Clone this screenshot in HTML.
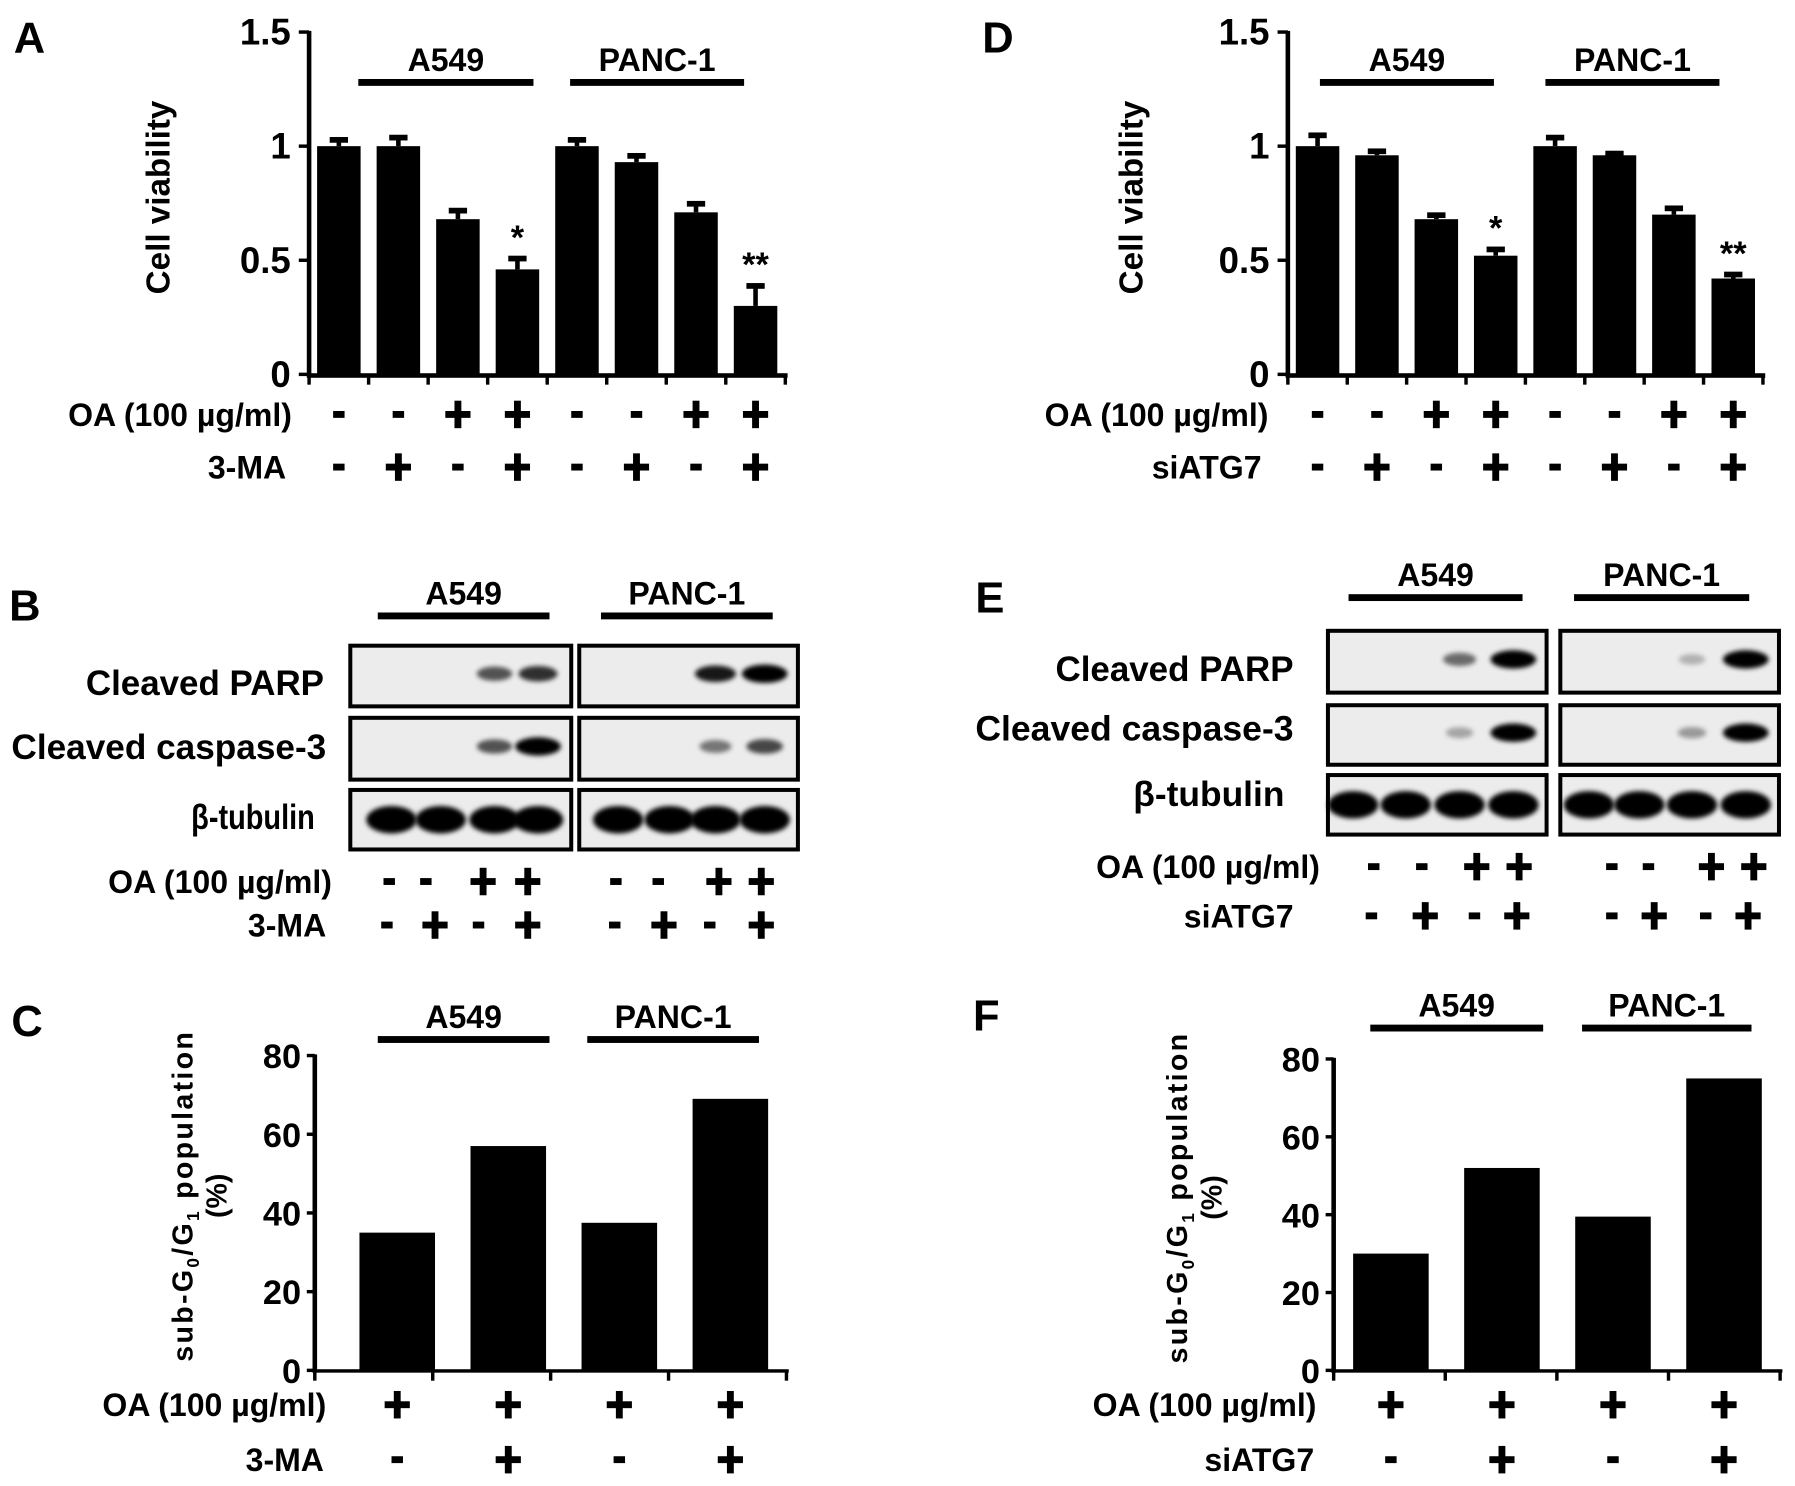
<!DOCTYPE html>
<html><head><meta charset="utf-8"><style>
html,body{margin:0;padding:0;background:#fff;}
svg{display:block;}
text{font-family:"Liberation Sans",Arial,sans-serif;font-weight:bold;fill:#000;}
</style></head><body>
<svg id="fig" width="1795" height="1486" viewBox="0 0 1568 1298" preserveAspectRatio="none" xmlns="http://www.w3.org/2000/svg">
<defs>
<filter id="blur" x="-50%" y="-100%" width="200%" height="300%"><feGaussianBlur stdDeviation="2.2"/></filter>
</defs>
<g id="root"></g>
</svg>
<script>
// ---- data ----
const vCats = ["A549-1","A549-2","A549-3","A549-4","PANC1-1","PANC1-2","PANC1-3","PANC1-4"];
const viabA = [1.0, 1.0, 0.68, 0.46, 1.0, 0.93, 0.71, 0.30];
const errA  = [0.03, 0.04, 0.04, 0.05, 0.03, 0.03, 0.04, 0.09];
const starsA = ["","","","*","","","","**"];
const viabD = [1.0, 0.96, 0.68, 0.52, 1.0, 0.96, 0.70, 0.42];
const errD  = [0.05, 0.02, 0.02, 0.03, 0.04, 0.01, 0.03, 0.02];
const starsD = ["","","","*","","","","**"];
const viabTicks = [0, 0.5, 1, 1.5];
const viabTickLabels = ["0","0.5","1","1.5"];
const oa8 = ["-","-","+","+","-","-","+","+"];
const inh8 = ["-","+","-","+","-","+","-","+"];
const subCats = ["A549 OA","A549 OA+inh","PANC1 OA","PANC1 OA+inh"];
const subC = [35, 57, 37.5, 69];
const subF = [30, 52, 39.5, 75];
const subTicks = [0,20,40,60,80];
const oa4 = ["+","+","+","+"];
const inh4 = ["-","+","-","+"];
// blot band intensities (0..1) per lane
const bParpA = [0,0,0.55,0.7], bParpP = [0,0,0.8,1.0];
const bCasA = [0,0,0.55,1.0], bCasP = [0,0,0.4,0.6];
const eParpA = [0,0,0.45,1.0], eParpP = [0,0,0.15,1.0];
const eCasA = [0,0,0.2,1.0], eCasP = [0,0,0.25,1.0];
const tub = [1,1,1,1];

const NS="http://www.w3.org/2000/svg";
const root=document.getElementById('root');
function el(tag,attrs,parent){const e=document.createElementNS(NS,tag);for(const k in attrs)e.setAttribute(k,attrs[k]);(parent||root).appendChild(e);return e;}
function txt(s,x,y,size,anchor,parent){const t=el('text',{x:x,y:y,'font-size':size,'text-anchor':anchor||'middle'},parent);t.textContent=s;return t;}
function ltxt(s,x1,x2,y,size,name){const t=el('text',{x:x1,y:y,'font-size':size,'text-anchor':'start',textLength:x2-x1,lengthAdjust:'spacingAndGlyphs'});t.textContent=s;
 
 return t;}

function panelLetter(l,x,y){const t=txt(l,x,y,38,'start');

}

function groupLine(label,x1,x2,y,name){
 const g=el('g',{});
 
 
 el('rect',{x:x1,y:y-3,width:x2-x1,height:6,fill:'#000'},g);
 txt(label,(x1+x2)/2,y-10,28,'middle',g);
}

function signRow(label,labelX,y,xs,signs,name){
 const g=el('g',{});
 
 
 txt(label,labelX,y+10,28,'end',g);
 signs.forEach((s,i)=>{
  if(s==='+'){el('rect',{x:xs[i]-11,y:y-3,width:22,height:6,fill:'#000'},g);el('rect',{x:xs[i]-3,y:y-12,width:6,height:24,fill:'#000'},g);}
  else el('rect',{x:xs[i]-5,y:y-3,width:10,height:6,fill:'#000'},g);
 });
}

function viabChart(o){
 const g=el('g',{});
 
 
 const y=v=>o.y0-(v-0)*(o.y0-o.y1)/1.5;
 const step=(o.xEnd-o.x0)/o.vals.length;
 const cx=i=>o.x0+step*(i+0.5);
 o.vals.forEach((v,i)=>{
  const b=el('rect',{x:cx(i)-19,y:y(v),width:38,height:o.y0-y(v),fill:'#000'},g);
  
  
  const et=y(v+o.errs[i]);
  el('rect',{x:cx(i)-2,y:et,width:4,height:y(v)-et,fill:'#000'},g);
  el('rect',{x:cx(i)-8,y:et-2,width:16,height:5,fill:'#000'},g);
  if(o.stars[i]) txt(o.stars[i],cx(i),et-8,30,'middle',g);
 });
 el('rect',{x:o.x0-2,y:o.y1-1,width:4,height:o.y0-o.y1+3,fill:'#000'},g);
 el('rect',{x:o.x0-2,y:o.y0-1,width:o.xEnd-o.x0+4,height:4,fill:'#000'},g);
 viabTicks.forEach((t,i)=>{el('rect',{x:o.x0-9,y:y(t)-1.5,width:9,height:3,fill:'#000'},g);
  txt(viabTickLabels[i],o.x0-16,y(t)+11,32,'end',g);});
 for(let i=0;i<=o.vals.length;i++) el('rect',{x:o.x0+step*i-1.5,y:o.y0,width:3,height:9,fill:'#000'},g);
 const yl=txt('Cell viability',0,0,29,'middle',g);
 yl.setAttribute('transform','translate('+o.ylx+','+((o.y0+o.y1)/2-5)+') rotate(-90)');
 
 
 return o.vals.map((v,i)=>cx(i));
}

function subChart(o){
 const g=el('g',{});
 
 
 const y=v=>o.y0-v*(o.y0-o.y1)/80;
 const step=(o.xEnd-o.x0)/o.vals.length;
 const cx=i=>o.x0+o.first+i*o.gap;
 o.vals.forEach((v,i)=>{
  const b=el('rect',{x:cx(i)-33,y:y(v),width:66,height:o.y0-y(v),fill:'#000'},g);
  
  
 });
 el('rect',{x:o.x0-2,y:o.y1-1,width:4,height:o.y0-o.y1+3,fill:'#000'},g);
 el('rect',{x:o.x0-2,y:o.y0-1,width:o.xEnd-o.x0+4,height:3,fill:'#000'},g);
 subTicks.forEach(t=>{el('rect',{x:o.x0-7,y:y(t)-1.5,width:7,height:3,fill:'#000'},g);
  txt(String(t),o.x0-12,y(t)+11,30,'end',g);});
 for(let i=0;i<=o.vals.length;i++) el('rect',{x:o.x0+step*i-1.5,y:o.y0,width:3,height:9,fill:'#000'},g);
 const yl=el('text',{'font-size':25,'text-anchor':'middle','letter-spacing':'2'},g);
 yl.setAttribute('transform','translate('+o.ylx+','+((o.y0+o.y1)/2-15)+') rotate(-90)');
 
 
 yl.innerHTML='sub-G<tspan font-size="15" dy="6">0</tspan><tspan dy="-6">/G</tspan><tspan font-size="15" dy="6">1</tspan><tspan dy="-6"> population</tspan>';
 const y2=txt('(%)',0,0,25,'middle',g);
 y2.setAttribute('transform','translate('+(o.ylx+30)+','+((o.y0+o.y1)/2-15)+') rotate(-90)');
 return o.vals.map((v,i)=>cx(i));
}

function blotBox(x1,x2,y1,y2,bands,lanes,name,thick){
 const g=el('g',{});
 
 
 el('rect',{x:x1,y:y1,width:x2-x1,height:y2-y1,fill:'#ececec',stroke:'#000','stroke-width':3.5},g);
 const cy=(y1+y2)/2;
 bands.forEach((b,i)=>{ if(b<=0.02) return;
  const ry=thick?12:4+4*b, rx=thick?22:10+10*b;
  el('ellipse',{cx:lanes[i],cy:cy-(thick?0:2),rx:rx,ry:ry,fill:'#000','fill-opacity':Math.min(1,0.1+b),filter:'url(#blur)'},g);
 });
}

// ---- Panel A ----
panelLetter('A',12,46);
let xsA=viabChart({name:'panel-a-viability-chart',x0:270,xEnd:686,y0:327,y1:28,vals:viabA,errs:errA,stars:starsA,ylx:148});
groupLine('A549',313,466,72,'group-a549-a');groupLine('PANC-1',498,650,72,'group-panc1-a');
signRow('OA (100 µg/ml)',255,362,xsA,oa8,'oa-row-a');
signRow('3-MA',250,408,xsA,inh8,'inhibitor-row-a');

// ---- Panel D ----
panelLetter('D',858,46);
let xsD=viabChart({name:'panel-d-viability-chart',x0:1125,xEnd:1540,y0:327,y1:28,vals:viabD,errs:errD,stars:starsD,ylx:998});
groupLine('A549',1153,1305,72,'group-a549-d');groupLine('PANC-1',1350,1502,72,'group-panc1-d');
signRow('OA (100 µg/ml)',1108,362,xsD,oa8,'oa-row-d');
signRow('siATG7',1102,408,xsD,inh8,'inhibitor-row-d');

// ---- Panel B ----
panelLetter('B',8,542);
groupLine('A549',330,480,538,'group-a549-b');groupLine('PANC-1',525,675,538,'group-panc1-b');
const lBA=[342,385,432,470], lBP=[540,585,625,668];
ltxt('Cleaved PARP',75,283,607,31,'label-cleaved-parp-b');
ltxt('Cleaved caspase-3',10,285,663,31,'label-cleaved-caspase-b');
ltxt('β-tubulin',167,275,724,31,'label-tubulin-b');
blotBox(306,499,564,617,bParpA,lBA,'blot-parp-a549');blotBox(506,697,564,617,bParpP,lBP,'blot-parp-panc1');
blotBox(306,499,627,681,bCasA,lBA,'blot-caspase-a549');blotBox(506,697,627,681,bCasP,lBP,'blot-caspase-panc1');
blotBox(306,499,690,742,tub,lBA,'blot-tubulin-a549',true);blotBox(506,697,690,742,tub,lBP,'blot-tubulin-panc1',true);
signRow('OA (100 µg/ml)',290,770,[340,372,422,461,538,575,628,665],oa8,'oa-row-b');
signRow('3-MA',285,808,[338,380,418,461,537,580,620,665],inh8,'inhibitor-row-b');

// ---- Panel E ----
panelLetter('E',852,535);
groupLine('A549',1178,1330,522,'group-a549-e');groupLine('PANC-1',1375,1528,522,'group-panc1-e');
const lEA=[1182,1228,1275,1322], lEP=[1388,1432,1478,1525];
ltxt('Cleaved PARP',922,1130,595,31,'label-cleaved-parp-e');
ltxt('Cleaved caspase-3',852,1130,647,31,'label-cleaved-caspase-e');
ltxt('β-tubulin',990,1122,704,31,'label-tubulin-e');
blotBox(1160,1351,551,605,eParpA,lEA,'blot-parp-a549-e');blotBox(1363,1554,551,605,eParpP,lEP,'blot-parp-panc1-e');
blotBox(1160,1351,616,668,eCasA,lEA,'blot-caspase-a549-e');blotBox(1363,1554,616,668,eCasP,lEP,'blot-caspase-panc1-e');
blotBox(1160,1351,677,729,tub,lEA,'blot-tubulin-a549-e',true);blotBox(1363,1554,677,729,tub,lEP,'blot-tubulin-panc1-e',true);
signRow('OA (100 µg/ml)',1153,757,[1200,1242,1290,1327,1408,1440,1495,1532],oa8,'oa-row-e');
signRow('siATG7',1130,800,[1198,1245,1288,1325,1408,1445,1490,1527],inh8,'inhibitor-row-e');

// ---- Panel C ----
panelLetter('C',10,905);
let xsC=subChart({name:'panel-c-subg1-chart',x0:275,xEnd:687,y0:1197,y1:922,vals:subC,ylx:168,first:72,gap:97});
groupLine('A549',330,480,908,'group-a549-c');groupLine('PANC-1',513,663,908,'group-panc1-c');
signRow('OA (100 µg/ml)',285,1227,xsC,oa4,'oa-row-c');
signRow('3-MA',283,1275,xsC,inh4,'inhibitor-row-c');

// ---- Panel F ----
panelLetter('F',850,900);
let xsF=subChart({name:'panel-f-subg1-chart',x0:1165,xEnd:1555,y0:1197,y1:925,vals:subF,ylx:1037,first:50,gap:97});
groupLine('A549',1197,1348,898,'group-a549-f');groupLine('PANC-1',1382,1530,898,'group-panc1-f');
signRow('OA (100 µg/ml)',1150,1227,xsF,oa4,'oa-row-f');
signRow('siATG7',1148,1275,xsF,inh4,'inhibitor-row-f');
</script>
</body></html>
